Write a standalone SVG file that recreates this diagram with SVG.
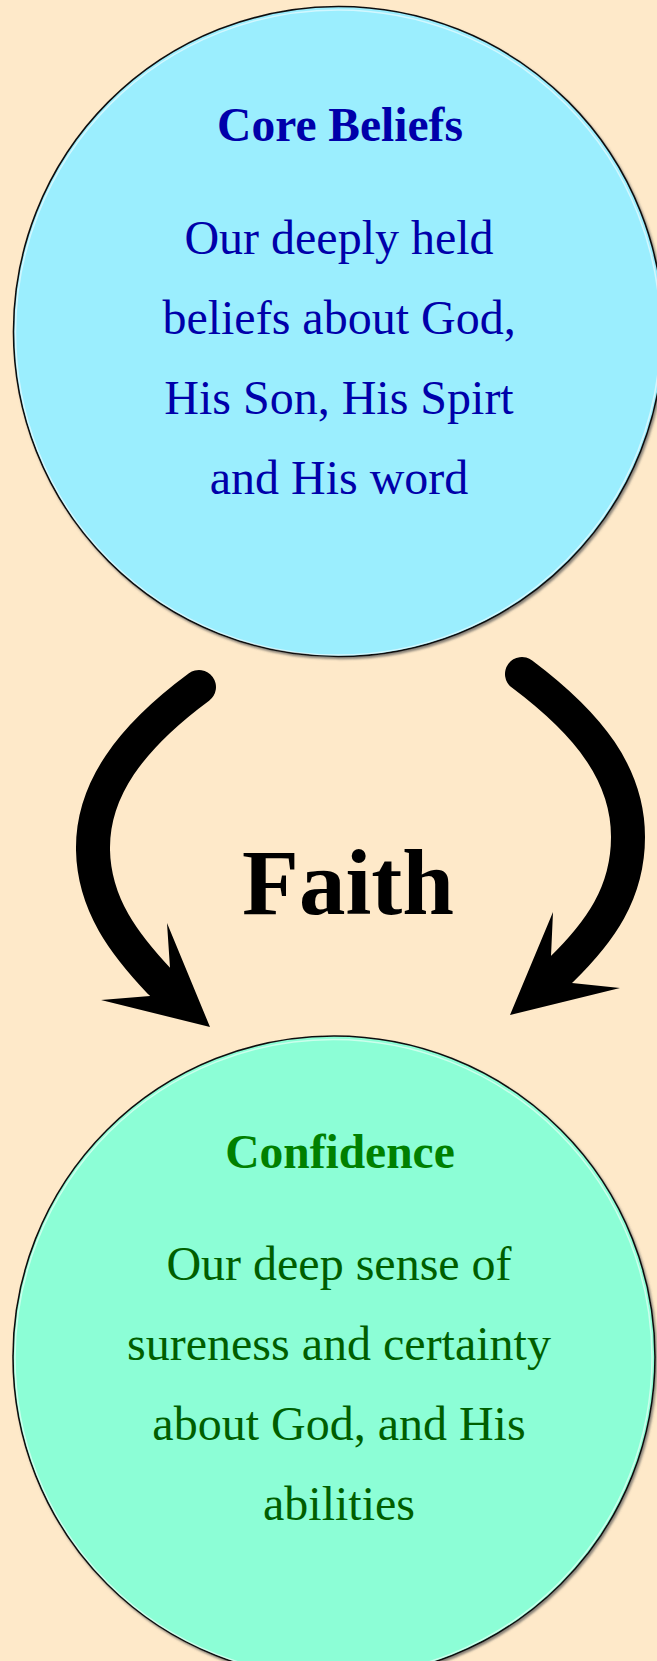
<svg xmlns="http://www.w3.org/2000/svg" width="657" height="1661" viewBox="0 0 657 1661">
<style>
.bg{fill:#FEE9C9}
.circ{stroke:#111;stroke-width:1.6;filter:url(#bevel)}
.hl{fill:none;stroke:#fff;stroke-width:1.5;opacity:0.55}
.title{font-family:"Liberation Serif","Times New Roman",serif;font-weight:bold;font-size:47.5px;text-anchor:middle}
.body{font-family:"Liberation Serif","Times New Roman",serif;font-size:48px;text-anchor:middle}
.faith{font-family:"Liberation Serif","Times New Roman",serif;font-weight:bold;font-size:93px;text-anchor:middle;fill:#000}
.arrow{fill:none;stroke:#000;stroke-width:34;stroke-linecap:round}
.head{fill:#000;stroke:none}
</style>
<defs>
<filter id="bevel" x="-5%" y="-5%" width="110%" height="110%">
<feDropShadow dx="1.5" dy="2" stdDeviation="1" flood-color="#555" flood-opacity="0.7"/>
</filter>
</defs>
<rect class="bg" x="0" y="0" width="657" height="1661"/>
<g id="core-beliefs">
<circle class="circ" cx="338.5" cy="331.5" r="325" fill="#9BEEFE"/>
<circle class="hl" cx="338" cy="332.5" r="322.5"/>
<text class="title" x="340" y="141" fill="#0000AA">Core Beliefs</text>
<text class="body" x="339" y="254" fill="#0000AA">Our deeply held</text>
<text class="body" x="339" y="334" fill="#0000AA">beliefs about God,</text>
<text class="body" x="339" y="414" fill="#0000AA">His Son, His Spirt</text>
<text class="body" x="339" y="494" fill="#0000AA">and His word</text>
</g>
<g id="faith">
<text class="faith" x="348" y="914">Faith</text>
</g>
<g id="confidence">
<circle class="circ" cx="334" cy="1357" r="321" fill="#8CFED6"/>
<circle class="hl" cx="333.5" cy="1358" r="318.5"/>
<text class="title" x="340" y="1168" fill="#008000">Confidence</text>
<text class="body" x="339" y="1280" fill="#005E00">Our deep sense of</text>
<text class="body" x="339" y="1360" fill="#005E00">sureness and certainty</text>
<text class="body" x="339" y="1440" fill="#005E00">about God, and His</text>
<text class="body" x="339" y="1520" fill="#005E00">abilities</text>
</g>
<g id="connectors">
<path class="arrow" d="M199 687 C130 738 92 790 93 850 C94 905 125 945 160 982"/>
<polygon class="head" points="210,1027 101,1000 150,996 170,968 167,923"/>
<path class="arrow" d="M522 674 C590 725 628 775 628 837 C628 893 600 932 561 970"/>
<polygon class="head" points="510,1015 620,988 572,983 551,956 553,912"/>
</g>
</svg>
